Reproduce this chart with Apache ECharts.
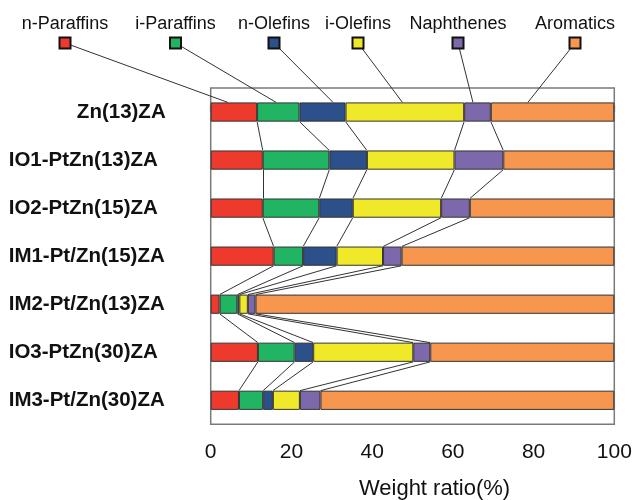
<!DOCTYPE html>
<html><head><meta charset="utf-8">
<script src="https://cdn.jsdelivr.net/npm/echarts@6/dist/echarts.min.js"></script>
<style>html,body{margin:0;padding:0;background:#fff}#c{width:635px;height:500px}</style>
</head><body><div id="c"></div>
<script>
// ---- data ----
const categories = ['Zn(13)ZA','IO1-PtZn(13)ZA','IO2-PtZn(15)ZA','IM1-Pt/Zn(15)ZA','IM2-Pt/Zn(13)ZA','IO3-PtZn(30)ZA','IM3-Pt/Zn(30)ZA'];
const seriesNames = ['n-Paraffins','i-Paraffins','n-Olefins','i-Olefins','Naphthenes','Aromatics'];
const nParaffins = [11.5, 12.9, 12.9, 15.6, 2.2, 11.7, 7.0];
const iParaffins = [10.5, 16.5, 14.0, 7.3, 4.4, 9.1, 6.0];
const nOlefins   = [11.4, 9.3, 8.3, 8.3, 0.5, 4.6, 2.4];
const iOlefins   = [29.4, 21.7, 21.9, 11.5, 2.1, 24.8, 6.7];
const naphthenes = [6.6, 12.1, 7.1, 4.6, 1.9, 4.2, 5.1];
const aromatics  = [30.6, 27.5, 35.8, 52.7, 88.9, 45.6, 72.8];
const xTicks = [0, 20, 40, 60, 80, 100];

// ---- styles / layout ----
const colors = ['#EE3A2C', '#21B463', '#2C5089', '#F0E92A', '#7C68AB', '#F7964F'];
const legendCenterX = [65, 175.5, 274, 358, 458, 575];
const legendTextY = 24, legendBoxY = 43, legendBox = 11;
const leaderFrac = [0.37, 0.45, 0.73, 0.48, 0.33, 0.30];
const labelStyleKey = ['r', 'l', 'l', 'l', 'l', 'l', 'l']; // first label right-aligned, others left-aligned
const barHalf = 0.2; // half bar thickness in category units (barWidth 40%)
const FONT = '"Liberation Sans", Arial, sans-serif';

const allSeries = [nParaffins, iParaffins, nOlefins, iOlefins, naphthenes, aromatics];

// cumulative boundaries
const cum = categories.map((_, i) => {
  let s = 0; const out = [0];
  allSeries.forEach(arr => { s += arr[i]; out.push(s); });
  return out;
});

// connecting lines between consecutive bars at inner boundaries
const connData = [];
for (let k = 1; k <= 5; k++) {
  for (let i = 0; i < categories.length - 1; i++) {
    connData.push({ coords: [[cum[i][k], i + barHalf], [cum[i + 1][k], i + 1 - barHalf]] });
  }
}

const chart = echarts.init(document.getElementById('c'), null, { renderer: 'canvas' });

const labelFont = { fontSize: 20.5, fontWeight: 'bold', color: '#111', fontFamily: FONT };

const option = {
  animation: false,
  backgroundColor: '#fff',
  textStyle: { fontFamily: FONT },
  grid: {
    left: 210.7, right: 20.7, top: 88, bottom: 75.7,
    containLabel: false, outerBoundsMode: 'none',
    show: true, borderColor: '#7a7a7a', borderWidth: 1.5, backgroundColor: 'transparent'
  },
  xAxis: {
    type: 'value', min: xTicks[0], max: xTicks[xTicks.length - 1], interval: xTicks[1] - xTicks[0],
    axisLine: { show: false },
    axisTick: { show: true, inside: true, length: 7, lineStyle: { color: '#6a6a6a', width: 1.2 } },
    splitLine: { show: false },
    axisLabel: { fontSize: 21, color: '#111', margin: 17, fontFamily: FONT },
    name: 'Weight ratio(%)', nameLocation: 'middle', nameGap: 54,
    nameTextStyle: { fontSize: 22, color: '#111', fontFamily: FONT, padding: [0, 0, 0, 44] }
  },
  yAxis: [
    {
      type: 'category', inverse: true, data: categories,
      axisLine: { show: false }, axisTick: { show: false }, splitLine: { show: false },
      axisLabel: Object.assign({}, labelFont, {
        margin: 45,
        formatter: (v, i) => '{' + labelStyleKey[i] + '|' + v + '}',
        rich: {
          l: Object.assign({}, labelFont, { width: 157, align: 'left' }),
          r: Object.assign({}, labelFont)
        }
      })
    },
    { type: 'value', min: -0.5, max: categories.length - 0.5, inverse: true, show: false }
  ],
  series: allSeries.map((arr, j) => ({
    name: seriesNames[j], type: 'bar', stack: 'total', data: arr,
    barWidth: '40%', yAxisIndex: 0,
    itemStyle: { color: colors[j], borderColor: '#333', borderWidth: 1 }
  })).concat([{
    type: 'lines', coordinateSystem: 'cartesian2d', xAxisIndex: 0, yAxisIndex: 1,
    data: connData, silent: true, clip: false,
    lineStyle: { color: '#333', width: 1, opacity: 1 }, z: 3
  }])
};
chart.setOption(option);

// legend + leader lines (graphic), endpoints computed through the axes
const graphics = [];
seriesNames.forEach((name, j) => {
  const cx = legendCenterX[j];
  const target = cum[0][j] + leaderFrac[j] * allSeries[j][0];
  const p = chart.convertToPixel({ xAxisIndex: 0, yAxisIndex: 1 }, [target, -barHalf]);
  graphics.push({
    type: 'line', z: 10,
    shape: { x1: cx, y1: legendBoxY, x2: p[0], y2: p[1] },
    style: { stroke: '#333', lineWidth: 1 }
  });
  graphics.push({
    type: 'rect', z: 11,
    shape: { x: cx - legendBox / 2, y: legendBoxY - legendBox / 2, width: legendBox, height: legendBox },
    style: { fill: colors[j], stroke: '#111', lineWidth: 2 }
  });
  graphics.push({
    type: 'text', z: 11, x: cx, y: legendTextY,
    style: { text: name, fontSize: 18, fontFamily: FONT, fill: '#111', align: 'center', verticalAlign: 'middle' }
  });
});
chart.setOption({ graphic: graphics });
</script>
</body></html>
